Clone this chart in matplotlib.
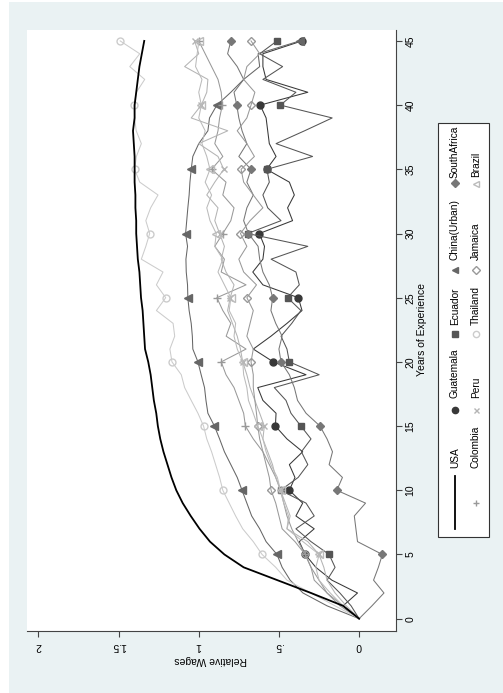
import numpy as np
import matplotlib
matplotlib.use('Agg')
import matplotlib.pyplot as plt
from matplotlib.patches import Rectangle
from matplotlib.lines import Line2D

plt.rcParams['font.family'] = ['Liberation Sans', 'DejaVu Sans']

# experience profiles, years 0..45
years = np.arange(0, 46)

usa = [0, 0.10, 0.30, 0.51, 0.72, 0.84, 0.93, 0.995, 1.05, 1.10,
       1.14, 1.17, 1.195, 1.22, 1.24, 1.255, 1.265, 1.28, 1.29, 1.30,
       1.315, 1.335, 1.34, 1.345, 1.35, 1.36, 1.365, 1.37, 1.38, 1.385,
       1.39, 1.39, 1.395, 1.395, 1.40, 1.40, 1.40, 1.405, 1.41, 1.40,
       1.40, 1.39, 1.38, 1.37, 1.355, 1.34]
guatemala = [0, 0.10, 0.01, 0.17, 0.27, 0.336, 0.373, 0.28, 0.394, 0.352,
             0.435, 0.40, 0.435, 0.352, 0.45, 0.522, 0.518, 0.60, 0.632, 0.331,
             0.535, 0.66, 0.55, 0.45, 0.356, 0.379, 0.60, 0.663, 0.60, 0.59,
             0.622, 0.415, 0.446, 0.404, 0.435, 0.577, 0.518, 0.56, 0.57, 0.58,
             0.617, 0.32, 0.58, 0.60, 0.60, 0.356]
ecuador = [0, 0.05, 0.12, 0.20, 0.15, 0.187, 0.30, 0.394, 0.28, 0.331,
           0.49, 0.38, 0.32, 0.36, 0.30, 0.363, 0.425, 0.456, 0.529, 0.249,
           0.435, 0.45, 0.487, 0.42, 0.363, 0.446, 0.373, 0.394, 0.549, 0.32,
           0.695, 0.487, 0.57, 0.60, 0.56, 0.575, 0.29, 0.518, 0.34, 0.168,
           0.491, 0.394, 0.60, 0.477, 0.62, 0.512]
china = [0, 0.20, 0.35, 0.43, 0.48, 0.512, 0.58, 0.62, 0.67, 0.70,
         0.73, 0.76, 0.80, 0.84, 0.87, 0.902, 0.943, 0.955, 0.964, 0.985,
         1.005, 1.037, 1.04, 1.047, 1.06, 1.068, 1.07, 1.078, 1.08, 1.07,
         1.082, 1.075, 1.068, 1.06, 1.055, 1.047, 1.037, 1.0, 0.943, 0.933,
         0.887, 0.80, 0.72, 0.62, 0.63, 0.37]
southafrica = [0, -0.08, -0.155, -0.09, -0.12, -0.145, 0.01, 0.02, 0.03, -0.04,
               0.139, 0.104, 0.187, 0.166, 0.20, 0.244, 0.331, 0.384, 0.404, 0.435,
               0.487, 0.50, 0.48, 0.52, 0.55, 0.539, 0.56, 0.60, 0.62, 0.63,
               0.69, 0.72, 0.70, 0.66, 0.70, 0.674, 0.75, 0.70, 0.73, 0.75,
               0.763, 0.78, 0.72, 0.76, 0.82, 0.80]
colombia = [0, 0.12, 0.20, 0.28, 0.30, 0.336, 0.38, 0.42, 0.45, 0.47,
            0.49, 0.52, 0.56, 0.60, 0.66, 0.709, 0.72, 0.75, 0.78, 0.83,
            0.86, 0.705, 0.829, 0.80, 0.85, 0.887, 0.705, 0.86, 0.84, 0.90,
            0.85, 0.80, 0.78, 0.85, 0.83, 0.92, 0.85, 0.90, 0.88, 0.87,
            0.853, 0.86, 0.88, 0.92, 0.96, 1.0]
peru = [0, 0.08, 0.15, 0.20, 0.22, 0.25, 0.32, 0.45, 0.43, 0.46,
        0.49, 0.52, 0.54, 0.57, 0.60, 0.591, 0.62, 0.65, 0.68, 0.70,
        0.726, 0.74, 0.76, 0.79, 0.82, 0.804, 0.78, 0.83, 0.86, 0.84,
        0.87, 0.90, 0.88, 0.95, 0.90, 0.844, 0.88, 1.00, 0.819, 1.047,
        0.984, 0.95, 0.943, 1.088, 1.00, 1.026]
thailand = [0, 0.15, 0.30, 0.45, 0.52, 0.605, 0.66, 0.726, 0.77, 0.81,
            0.85, 0.87, 0.895, 0.92, 0.95, 0.97, 1.005, 1.047, 1.088, 1.109,
            1.167, 1.18, 1.15, 1.16, 1.264, 1.206, 1.264, 1.223, 1.358, 1.33,
            1.306, 1.33, 1.30, 1.254, 1.368, 1.40, 1.389, 1.358, 1.39, 1.40,
            1.403, 1.389, 1.337, 1.43, 1.368, 1.49]
jamaica = [0, 0.10, 0.20, 0.25, 0.30, 0.336, 0.40, 0.48, 0.50, 0.52,
           0.549, 0.56, 0.58, 0.60, 0.62, 0.632, 0.64, 0.65, 0.66, 0.66,
           0.674, 0.66, 0.70, 0.68, 0.66, 0.70, 0.64, 0.72, 0.75, 0.70,
           0.74, 0.68, 0.60, 0.66, 0.72, 0.736, 0.653, 0.70, 0.76, 0.70,
           0.674, 0.65, 0.72, 0.70, 0.62, 0.674]
brazil = [0, 0.10, 0.18, 0.25, 0.27, 0.249, 0.35, 0.45, 0.44, 0.47,
          0.49, 0.51, 0.55, 0.58, 0.60, 0.632, 0.66, 0.69, 0.70, 0.72,
          0.726, 0.76, 0.78, 0.77, 0.81, 0.80, 0.84, 0.88, 0.85, 0.90,
          0.891, 0.93, 0.95, 0.92, 0.96, 0.93, 0.95, 0.98, 0.96, 1.0,
          0.984, 1.0, 0.98, 1.02, 1.01, 0.999]

names = ['USA', 'Guatemala', 'Ecuador', 'China(Urban)', 'SouthAfrica',
         'Colombia', 'Peru', 'Thailand', 'Jamaica', 'Brazil']
series = [usa, guatemala, ecuador, china, southafrica,
          colombia, peru, thailand, jamaica, brazil]

# marker styles (triangles point left because the graph is turned on its side)
colors = ['#000000', '#383838', '#555555', '#666666', '#777777',
          '#999999', '#b4b4b4', '#cccccc', '#999999', '#bbbbbb']
markers = [None, 'o', 's', '<', 'D', '+', 'x', 'o', 'D', '<']
msizes = [0, 5, 5, 5.5, 4.3, 5.5, 4, 5, 4.3, 5.5]
filled = [True, True, True, True, True, True, True, False, False, False]

W, H = 503, 693
fig = plt.figure(figsize=(W / 100, H / 100), dpi=100, facecolor='white')

# background layer in pixel coordinates
bg = fig.add_axes([0, 0, 1, 1], zorder=0)
bg.set_xlim(0, W)
bg.set_ylim(H, 0)
bg.axis('off')
bg.add_patch(Rectangle((9, 2), W - 9, H - 2, facecolor='#eaf2f3', edgecolor='none'))


def px_box(x0, y0, x1, y1):
    return [x0 / W, 1 - y1 / H, (x1 - x0) / W, (y1 - y0) / H]


ax = fig.add_axes(px_box(27, 30, 396, 631), zorder=1)
ax.set_facecolor('white')

for i, (name, vals) in enumerate(zip(names, series)):
    if markers[i] is None:
        ax.plot(vals, years, color=colors[i], lw=1.3, zorder=3)
        continue
    ax.plot(vals, years, color=colors[i], lw=0.75,
            marker=markers[i], markersize=msizes[i], markevery=list(range(5, 46, 5)),
            markerfacecolor=colors[i] if filled[i] else 'none',
            markeredgecolor=colors[i], markeredgewidth=1.0, zorder=2)

ax.set_xlim(2.071, -0.230)
ax.set_ylim(-0.96, 45.85)

ax.set_xticks([0, 0.5, 1, 1.5, 2])
ax.set_xticklabels(['0', '.5', '1', '1.5', '2'])
ax.set_yticks(range(0, 46, 5))
ax.yaxis.tick_right()
ax.tick_params(axis='x', direction='out', length=4.3, width=0.8, color='#444444',
               labelsize=7.5, labelrotation=180, pad=3)
ax.tick_params(axis='y', direction='out', length=4.3, width=0.8, color='#444444',
               labelsize=7.5, labelrotation=90, pad=2.5)
for lab in ax.get_yticklabels():
    lab.set_va('center')

for s in ['top', 'left']:
    ax.spines[s].set_visible(False)
for s in ['bottom', 'right']:
    ax.spines[s].set_color('#444444')
    ax.spines[s].set_linewidth(0.8)

bg.text(211, 660, 'Relative Wages', rotation=180, ha='center', va='center', fontsize=7.5)
bg.text(422, 330, 'Years of Experience', rotation=90, ha='center', va='center', fontsize=7.5)

# legend box, two rows of five keys
bg.add_patch(Rectangle((438, 123), 51, 414, facecolor='white', edgecolor='#333333', lw=0.8))
row_x = [455, 476]
key_y = [[503, 410, 334, 270, 183], [503, 410, 334, 270, 184]]
text_y = [[468, 398, 325, 260, 178], [468, 398, 325, 260, 177]]
for i, name in enumerate(names):
    r, c = divmod(i, 5)
    x = row_x[r]
    if markers[i] is None:
        bg.add_line(Line2D([x, x], [476, 529], color=colors[i], lw=1.3))
    else:
        bg.plot([x], [key_y[r][c]], linestyle='none', marker=markers[i],
                markersize=msizes[i] * 0.9, color=colors[i],
                markerfacecolor=colors[i] if filled[i] else 'none',
                markeredgewidth=1.0)
    bg.text(x, text_y[r][c], name, rotation=90, rotation_mode='anchor',
            ha='left', va='center', fontsize=7.3)

fig.savefig('out.png', dpi=100, facecolor='white')
